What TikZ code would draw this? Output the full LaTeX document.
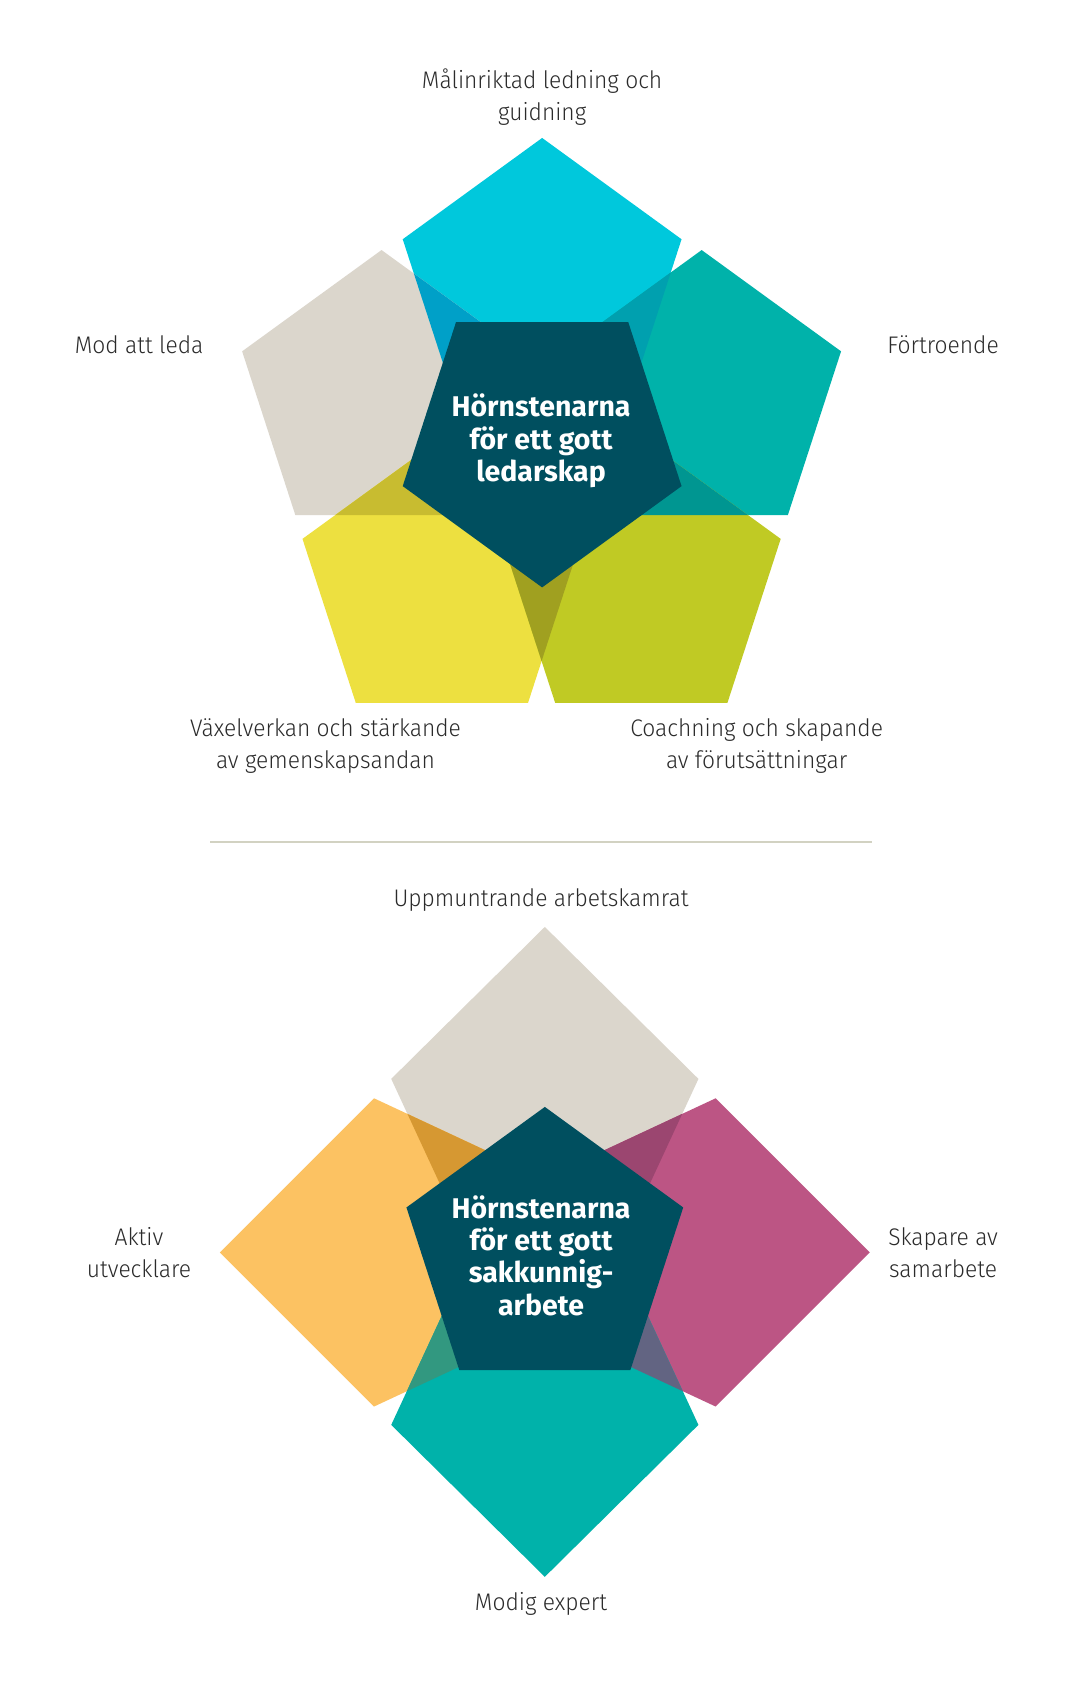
\documentclass[tikz,border=0pt]{standalone}
\usepackage{fontspec}
\setmainfont{Fira Sans}
\newfontfamily\labfont{Fira Sans Light}[FakeStretch=0.95]
\usetikzlibrary{calc}
\definecolor{cCyan}{HTML}{00C8DC}
\definecolor{cGrey}{HTML}{DBD6CC}
\definecolor{cTeal}{HTML}{00B2AA}
\definecolor{cYel}{HTML}{EDE040}
\definecolor{cGreen}{HTML}{C0CA24}
\definecolor{cDark}{HTML}{004F5F}
\definecolor{cCyanGrey}{HTML}{00A0C8}
\definecolor{cCyanTeal}{HTML}{00A0AF}
\definecolor{cGreyYel}{HTML}{C8BC30}
\definecolor{cTealGreen}{HTML}{009691}
\definecolor{cYelGreen}{HTML}{A0A020}
\definecolor{cOrange}{HTML}{FCC262}
\definecolor{cPink}{HTML}{BC5584}
\definecolor{cOrangeGrey}{HTML}{D69832}
\definecolor{cPinkGrey}{HTML}{9B4670}
\definecolor{cTealOrange}{HTML}{329880}
\definecolor{cTealPink}{HTML}{626482}
\definecolor{labgrey}{HTML}{2B2B2B}
\definecolor{sepline}{HTML}{D2D2C2}
\def\pent#1#2#3{($(#1)+(#2:#3)$) -- ($(#1)+(#2+72:#3)$) -- ($(#1)+(#2+144:#3)$) -- ($(#1)+(#2+216:#3)$) -- ($(#1)+(#2+288:#3)$) -- cycle}
\def\Pcyan{\pent{503,264}{-90}{136}}
\def\Pgrey{\pent{354,368}{-90}{136}}
\def\Pteal{\pent{651,368}{-90}{136}}
\def\Pyel{\pent{410,542}{-90}{136}}
\def\Pgreen{\pent{595,542}{-90}{136}}
\def\Pcenter{\pent{503,409}{90}{136}}
\def\Bgrey{(505.5,860) -- (648,1001) -- (578.5,1151) -- (432.5,1151) -- (363,1001) -- cycle}
\def\Borange{(204,1162) -- (347,1019) -- (497,1089) -- (497,1235) -- (347,1305) -- cycle}
\def\Bpink{(807,1162) -- (664,1019) -- (514,1089) -- (514,1235) -- (664,1305) -- cycle}
\def\Bteal{(505.5,1463) -- (363,1322) -- (432.5,1172) -- (578.5,1172) -- (648,1322) -- cycle}
\def\Bcenter{\pent{505.5,1162}{-90}{135}}
\tikzset{
  lab/.style={font=\labfont\fontsize{24}{32.3}\selectfont, text=labgrey, align=center, inner sep=0pt},
  ctr/.style={font=\bfseries\fontsize{28.5}{32.3}\selectfont, text=white, align=center, inner sep=0pt},
  sep/.style={draw=sepline, line width=1.5pt}
}
\begin{document}
\begin{tikzpicture}[x=1.0781pt,y=-1.0781pt]
\useasboundingbox (0,0) rectangle (1011,1568);
\fill[white] (0,0) rectangle (1011,1568);
% ---------- top group ----------
\fill[cCyan] \Pcyan;
\fill[cGrey] \Pgrey;
\fill[cTeal] \Pteal;
\fill[cYel] \Pyel;
\fill[cGreen] \Pgreen;
\begin{scope}\clip \Pcyan; \fill[cCyanGrey] \Pgrey; \end{scope}
\begin{scope}\clip \Pcyan; \fill[cCyanTeal] \Pteal; \end{scope}
\begin{scope}\clip \Pgrey; \fill[cGreyYel] \Pyel; \end{scope}
\begin{scope}\clip \Pteal; \fill[cTealGreen] \Pgreen; \end{scope}
\begin{scope}\clip \Pyel; \fill[cYelGreen] \Pgreen; \end{scope}
\fill[cDark] \Pcenter;
\node[lab] (l1) at (503,90) {Målinriktad ledning och\\guidning};
\node[lab] (l2) at (129,320) {Mod att leda};
\node[lab] (l3) at (875,320) {Förtroende};
\node[lab] (l4) at (302,692) {Växelverkan och stärkande\\av gemenskapsandan};
\node[lab] (l5) at (702,692) {Coachning och skapande\\av förutsättningar};
\node[ctr] (c1) at (502,409) {Hörnstenarna\\för ett gott\\ledarskap};
% ---------- separator ----------
\coordinate (s1) at (195,781);
\coordinate (s2) at (809,781);
\draw[sep] (s1) -- (s2);
% ---------- bottom group ----------
\fill[cGrey] \Bgrey;
\fill[cOrange] \Borange;
\fill[cPink] \Bpink;
\fill[cTeal] \Bteal;
\begin{scope}\clip \Bgrey; \fill[cOrangeGrey] \Borange; \end{scope}
\begin{scope}\clip \Bgrey; \fill[cPinkGrey] \Bpink; \end{scope}
\begin{scope}\clip \Bteal; \fill[cTealOrange] \Borange; \end{scope}
\begin{scope}\clip \Bteal; \fill[cTealPink] \Bpink; \end{scope}
\fill[cDark] \Bcenter;
\node[lab] (l6) at (502,835) {Uppmuntrande arbetskamrat};
\node[lab] (l7) at (129,1162) {Aktiv\\utvecklare};
\node[lab] (l8) at (875,1162) {Skapare av\\samarbete};
\node[lab] (l9) at (502,1488) {Modig expert};
\node[ctr] (c2) at (502,1165) {Hörnstenarna\\för ett gott\\sakkunnig-\\arbete};
\end{tikzpicture}
\end{document}
